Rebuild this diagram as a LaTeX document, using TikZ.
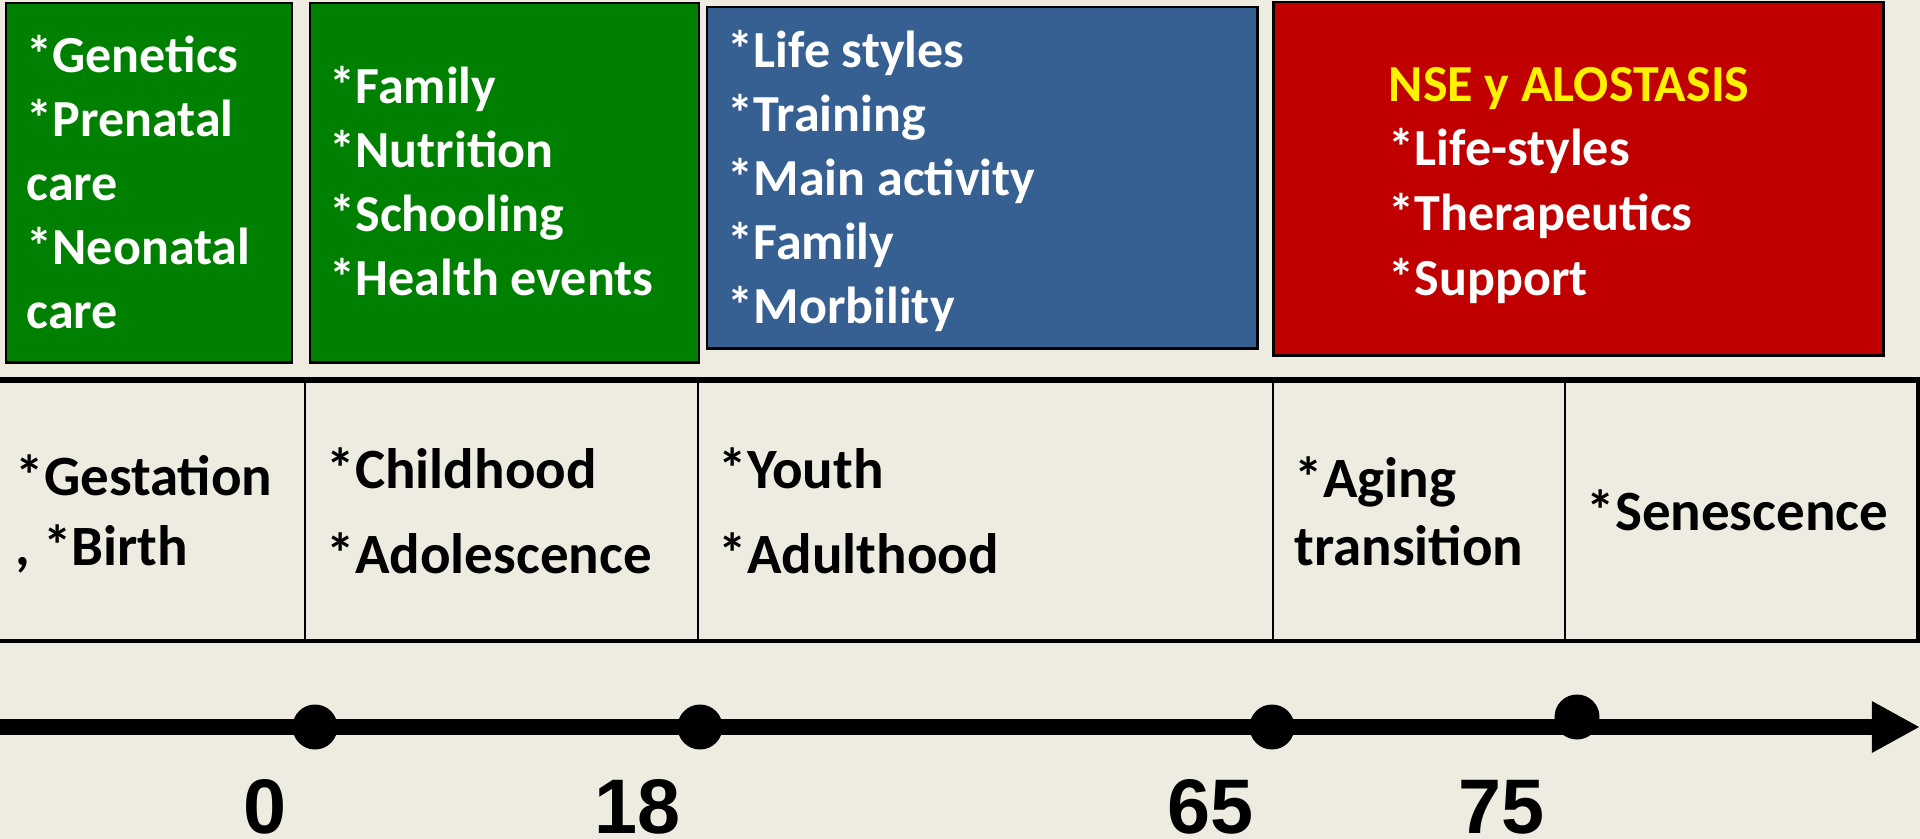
\documentclass[tikz,border=0pt]{standalone}
\usepackage{fontspec}
\setmainfont{Carlito}
\newfontfamily\numfont{Liberation Sans}
\usetikzlibrary{arrows.meta}
\definecolor{bgtan}{HTML}{EEECE1}
\definecolor{boxgreen}{HTML}{008000}
\definecolor{boxblue}{HTML}{376092}
\definecolor{boxred}{HTML}{C00000}
\tikzset{
  box/.style={draw=black, line width=0.85pt},
  boxtext/.style={anchor=north west, inner sep=0pt, align=left, text=white,
    font=\fontsize{14.8}{18.2}\selectfont\bfseries},
  stagetext/.style={anchor=north west, inner sep=0pt, align=left,
    font=\fontsize{16.2}{19.9}\selectfont\bfseries},
  dot/.style={circle, fill=black, inner sep=0pt, minimum size=12.8pt},
  age/.style={anchor=base, inner sep=0pt, font=\numfont\fontsize{22}{26}\selectfont\bfseries}
}

\begin{document}
\begin{tikzpicture}[x=0.01cm, y=-0.01cm]
  \fill[bgtan] (0,0) rectangle (1920,839);
  \useasboundingbox (0,0) rectangle (1920,839);

  % factor boxes
  \draw[box, fill=boxgreen] (6,3) rectangle (292,362);
  \draw[box, fill=boxgreen] (310,3) rectangle (699,362);
  \draw[box, fill=boxblue] (707,7) rectangle (1257,348);
  \draw[box, fill=boxred] (1273,2) rectangle (1883,355);

  \node (gen) [boxtext] at (26,27) {\strut*Genetics\\*Prenatal\\care\\*Neonatal\\care};
  \node (fam) [boxtext] at (329,58) {\strut*Family\\*Nutrition\\*Schooling\\*Health events};
  \node (life) [boxtext] at (727,22) {\strut*Life styles\\*Training\\*Main activity\\*Family\\*Morbility};
  \node (nse) [boxtext, font=\fontsize{14.8}{18.4}\selectfont\bfseries] at (1388,55)
    {\strut\textcolor{yellow}{NSE y ALOSTASIS}\\*Life-styles\\*Therapeutics\\*Support};

  % life stages
  \draw[line width=1.7pt] (0,380) -- (1920,380);
  \draw[line width=0.9pt] (0,641) -- (1918,641) -- (1918,380);
  \foreach \xx in {305,698,1273,1565}
    \draw[line width=0.6pt] (\xx,380) -- (\xx,641);

  \node (gest) [stagetext] at (15,446) {\strut*Gestation\\, *Birth};
  \node (child) [stagetext, font=\fontsize{16.2}{24.2}\selectfont\bfseries] at (326,428)
    {\strut*Childhood\\*Adolescence};
  \node (youth) [stagetext, font=\fontsize{16.2}{24.2}\selectfont\bfseries] at (718,428)
    {\strut*Youth\\*Adulthood};
  \node (aging) [stagetext, font=\fontsize{16.2}{19.4}\selectfont\bfseries] at (1294,449)
    {\strut*Aging\\transition};
  \node (sen) [stagetext, anchor=base west] at (1586,530) {*Senescence};

  % age axis
  \coordinate (axstart) at (0,727);
  \coordinate (axend) at (1920,727);
  \draw[line width=4.5pt, -{Triangle[length=13.7pt, width=13.7pt]}] (axstart) -- (axend);

  \node (d0) [dot] at (315,727) {};
  \node (d18) [dot] at (700,727) {};
  \node (d65) [dot] at (1272,727) {};
  \node (d75) [dot] at (1577,717) {};

  \node (a0) [age] at (265,833) {0};
  \node (a18) [age] at (638,833) {18};
  \node (a65) [age] at (1211,833) {65};
  \node (a75) [age] at (1502,833) {75};
\end{tikzpicture}
\end{document}
